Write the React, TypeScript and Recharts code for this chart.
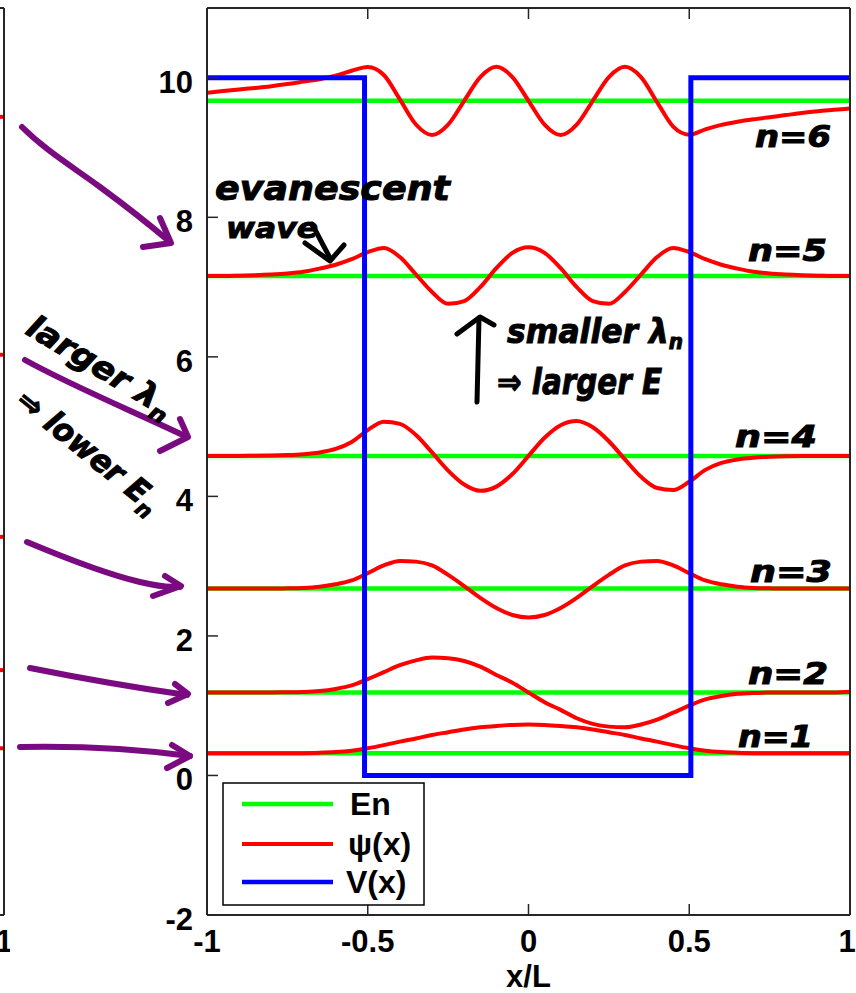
import React from 'react';
import { LineChart, Line, XAxis, YAxis } from 'recharts';

// sample positions x/L
const xs = [
  -1, -0.95, -0.9, -0.85, -0.8, -0.75, -0.7, -0.65, -0.6, -0.55, -0.5, -0.45, -0.4, -0.35, -0.3, -0.25, -0.2,
  -0.15, -0.1, -0.05, 0, 0.05, 0.1, 0.15, 0.2, 0.25, 0.3, 0.35, 0.4, 0.45, 0.5, 0.55, 0.6, 0.65, 0.7, 0.75,
  0.8, 0.85, 0.9, 0.95, 1,
];

// psi_n(x) drawn offset by E_n
const psi1 = [
  0.32, 0.32, 0.32, 0.32, 0.32, 0.32, 0.32, 0.325, 0.335, 0.355, 0.39, 0.435, 0.485, 0.53, 0.58, 0.62, 0.66,
  0.69, 0.71, 0.725, 0.73, 0.725, 0.71, 0.69, 0.66, 0.62, 0.58, 0.53, 0.485, 0.435, 0.39, 0.355, 0.335, 0.325,
  0.32, 0.32, 0.32, 0.32, 0.32, 0.32, 0.32,
];
const psi2 = [
  1.19, 1.19, 1.19, 1.19, 1.19, 1.192, 1.197, 1.21, 1.24, 1.29, 1.38, 1.48, 1.58, 1.65, 1.69, 1.68, 1.64,
  1.56, 1.44, 1.33, 1.19, 1.05, 0.94, 0.82, 0.74, 0.7, 0.69, 0.73, 0.8, 0.9, 1.0, 1.09, 1.14, 1.17, 1.183,
  1.188, 1.19, 1.19, 1.19, 1.19, 1.2,
];
const psi3 = [
  2.68, 2.68, 2.68, 2.68, 2.68, 2.682, 2.688, 2.705, 2.74, 2.795, 2.9, 3.01, 3.075, 3.065, 3.01, 2.875, 2.715,
  2.545, 2.4, 2.3, 2.265, 2.3, 2.4, 2.545, 2.715, 2.875, 3.01, 3.065, 3.075, 3.01, 2.9, 2.795, 2.74, 2.705,
  2.688, 2.682, 2.68, 2.68, 2.68, 2.68, 2.68,
];
const psi4 = [
  4.58, 4.58, 4.58, 4.582, 4.585, 4.592, 4.605, 4.63, 4.68, 4.78, 4.95, 5.07, 5.04, 4.88, 4.63, 4.37, 4.17,
  4.08, 4.14, 4.32, 4.58, 4.84, 5.02, 5.08, 4.99, 4.79, 4.53, 4.28, 4.12, 4.09, 4.21, 4.38, 4.48, 4.53, 4.555,
  4.568, 4.575, 4.578, 4.58, 4.58, 4.58,
];
const psi5 = [
  7.16, 7.16, 7.164, 7.17, 7.18, 7.195, 7.22, 7.265, 7.32, 7.4, 7.5, 7.56, 7.43, 7.18, 6.93, 6.76, 6.8, 7.0,
  7.27, 7.49, 7.57, 7.49, 7.27, 7.0, 6.8, 6.76, 6.93, 7.18, 7.43, 7.56, 7.5, 7.4, 7.32, 7.265, 7.22, 7.195,
  7.18, 7.17, 7.164, 7.16, 7.16,
];
const psi6 = [
  9.785, 9.81, 9.833, 9.855, 9.88, 9.91, 9.945, 9.98, 10.03, 10.1, 10.155, 10.04, 9.69, 9.33, 9.18, 9.33, 9.67,
  10.01, 10.157, 10.01, 9.67, 9.33, 9.18, 9.33, 9.67, 10.01, 10.157, 10.01, 9.65, 9.3, 9.185, 9.26, 9.325,
  9.37, 9.405, 9.435, 9.465, 9.495, 9.52, 9.54, 9.56,
];

const energies = [0.32, 1.19, 2.68, 4.58, 7.16, 9.67];

// square well V(x)
const potentialX = [-1, -0.51, -0.51, 0.505, 0.505, 1];
const potentialV = [10, 10, 0, 0, 10, 10];

const xTicks = [-1, -0.5, 0, 0.5, 1];
const yTicks = [-2, 0, 2, 4, 6, 8, 10];

// right-hand ends of the red curves of the neighbouring (cropped) panel
const leftStubX = [0.97, 1];
const leftEnds = [9.44, 6.03, 3.42, 1.51, 0.39];
const leftXTicks = [1];

const psiSets = [psi1, psi2, psi3, psi4, psi5, psi6];
const psiRows = xs.map((x, i) => {
  const row: Record<string, number> = { x };
  psiSets.forEach((s, k) => {
    row[`p${k + 1}`] = s[i];
  });
  return row;
});
const levelRows = energies.map((e) => [
  { x: -1, e },
  { x: 1, e },
]);
const potentialRows = potentialX.map((x, i) => ({ x, v: potentialV[i] }));
const leftRows = leftEnds.map((v) => leftStubX.map((x) => ({ x, v })));

const FONT = '"Liberation Sans", Arial, Helvetica, sans-serif';
const HAND = '"DejaVu Sans", sans-serif';
const INK = '#000';
const PURPLE = '#7a0a80';

const axisStyle = { stroke: '#262626', strokeWidth: 2 };
const tickStyle = { stroke: '#262626', strokeWidth: 1.5 };

const XTick = (props: any) => {
  const { x, y, payload, edgeShift } = props;
  // the right-most label of the main panel sits a touch inside the frame edge
  const dx = edgeShift && payload.value === 1 ? -3 : 0;
  return (
    <text x={x + dx} y={y} dy={23} textAnchor="middle" fontFamily={FONT} fontWeight="bold" fontSize={31} fill="#000">
      {String(payload.value)}
    </text>
  );
};

const YTick = (props: any) => {
  const { x, y, payload } = props;
  return (
    <text x={x} y={y} dy={15} textAnchor="end" fontFamily={FONT} fontWeight="bold" fontSize={31} fill="#000">
      {String(payload.value)}
    </text>
  );
};

const NoTick = () => <g />;

function NeighbourPanel() {
  return (
    <div style={{ position: 'absolute', left: -690, top: 0 }}>
      <LineChart width={700} height={993} margin={{ top: 7, right: 5, bottom: 0, left: 0 }}>
        <XAxis
          dataKey="x"
          type="number"
          domain={[-1, 1]}
          ticks={leftXTicks}
          interval={0}
          height={78}
          tickSize={-11}
          tickMargin={25}
          tick={<XTick />}
          axisLine={axisStyle}
          tickLine={tickStyle}
          allowDataOverflow
        />
        <XAxis xAxisId="top" orientation="top" dataKey="x" type="number" domain={[-1, 1]} ticks={leftXTicks} interval={0}
          height={1} tickSize={-11} tick={<NoTick />} axisLine={axisStyle} tickLine={tickStyle} />
        <YAxis type="number" domain={[-2, 11]} ticks={yTicks} interval={0} width={60} tickSize={-11}
          tick={<NoTick />} axisLine={axisStyle} tickLine={tickStyle} allowDataOverflow />
        <YAxis yAxisId="right" orientation="right" type="number" domain={[-2, 11]} ticks={yTicks} interval={0}
          width={1} tickSize={-11} tick={<NoTick />} axisLine={axisStyle} tickLine={tickStyle} />
        {leftRows.map((rows, i) => (
          <Line key={i} data={rows} dataKey="v" type="linear" stroke="#ff0000" strokeWidth={4} dot={false}
            isAnimationActive={false} />
        ))}
      </LineChart>
    </div>
  );
}

function Annotations() {
  const hand = {
    fontFamily: HAND,
    fontWeight: 'bold' as const,
    fontStyle: 'italic' as const,
    fill: INK,
    stroke: INK,
    strokeWidth: 1,
  };
  const purple = { stroke: PURPLE, strokeWidth: 6, fill: 'none', strokeLinecap: 'round' as const, strokeLinejoin: 'round' as const };
  const ink = { stroke: INK, strokeWidth: 5, fill: 'none', strokeLinecap: 'round' as const, strokeLinejoin: 'round' as const };
  return (
    <svg width={856} height={993} style={{ position: 'absolute', left: 0, top: 0, pointerEvents: 'none' }}>
      {/* legend */}
      <rect x={223} y={783} width={201} height={122} fill="#fff" stroke="#000" strokeWidth={1.5} />
      <line x1={242} x2={333} y1={804} y2={804} stroke="#00ff00" strokeWidth={4.5} />
      <line x1={242} x2={333} y1={844} y2={844} stroke="#ff0000" strokeWidth={4} />
      <line x1={242} x2={333} y1={882} y2={882} stroke="#0000ff" strokeWidth={4.5} />
      <g fontFamily={FONT} fontWeight="bold" fontSize={32} fill="#000">
        <text x={350} y={815}>En</text>
        <text x={348} y={855}>ψ(x)</text>
        <text x={346} y={893}>V(x)</text>
      </g>

      {/* purple arrows */}
      <path d="M22,127 C45,150 70,165 100,187 S150,225 170,242" {...purple} />
      <path d="M160,218 L171,243 L143,247" {...purple} />
      <path d="M25,360 C70,385 130,410 185,436" {...purple} />
      <path d="M180,419 L188,437 L160,451" {...purple} />
      <path d="M27,542 C70,560 110,575 140,582 S170,586 180,587" {...purple} />
      <path d="M165,576 L181,586 L153,596" {...purple} />
      <path d="M30,668 C70,676 130,687 187,695" {...purple} />
      <path d="M175,684 L188,694 L168,703" {...purple} />
      <path d="M20,747 C70,746 130,748 190,756" {...purple} />
      <path d="M172,745 L190,756 L167,768" {...purple} />

      {/* handwriting */}
      <text x={215} y={200} fontSize={34} textLength={235} lengthAdjust="spacingAndGlyphs" {...hand}>evanescent</text>
      <text x={226} y={238} fontSize={29} textLength={92} lengthAdjust="spacingAndGlyphs" {...hand}>wave</text>
      <path d="M312,224 L330,258" {...ink} />
      <path d="M305,243 L330,261 L344,245" {...ink} />

      <path d="M477,402 L479,318" {...ink} />
      <path d="M457,334 L480,317 L494,325" {...ink} />
      <text x={507} y={343} fontSize={33} textLength={176} lengthAdjust="spacingAndGlyphs" {...hand}>
        smaller λ<tspan dy={6} fontSize={21}>n</tspan>
      </text>
      <text x={497} y={394} fontSize={35} textLength={165} lengthAdjust="spacingAndGlyphs" {...hand}>⇒ larger E</text>

      <text transform="translate(24,333) rotate(31)" fontSize={32} textLength={165} lengthAdjust="spacingAndGlyphs" {...hand}>
        larger λ<tspan dy={8} fontSize={22}>n</tspan>
      </text>
      <text transform="translate(14,404) rotate(39)" fontSize={32} textLength={175} lengthAdjust="spacingAndGlyphs" {...hand}>
        ⇒ lower E<tspan dy={8} fontSize={22}>n</tspan>
      </text>

      <text x={755} y={147} fontSize={30} textLength={76} lengthAdjust="spacingAndGlyphs" {...hand}>n=6</text>
      <text x={748} y={261} fontSize={30} textLength={79} lengthAdjust="spacingAndGlyphs" {...hand}>n=5</text>
      <text x={735} y={447} fontSize={30} textLength={82} lengthAdjust="spacingAndGlyphs" {...hand}>n=4</text>
      <text x={750} y={582} fontSize={30} textLength={82} lengthAdjust="spacingAndGlyphs" {...hand}>n=3</text>
      <text x={748} y={684} fontSize={30} textLength={80} lengthAdjust="spacingAndGlyphs" {...hand}>n=2</text>
      <text x={738} y={747} fontSize={30} textLength={75} lengthAdjust="spacingAndGlyphs" {...hand}>n=1</text>
    </svg>
  );
}

export default function App(): React.ReactElement {
  return (
    <div style={{ position: 'absolute', left: 0, top: 0, width: 856, height: 993, overflow: 'hidden', background: '#fff' }}>
      <NeighbourPanel />
      <div style={{ position: 'absolute', left: 0, top: 0 }}>
        <LineChart width={856} height={993} data={psiRows} margin={{ top: 7, right: 5, bottom: 0, left: 0 }}>
          <XAxis
            dataKey="x"
            type="number"
            domain={[-1, 1]}
            ticks={xTicks}
            interval={0}
            height={78}
            tickSize={-11}
            tickMargin={25}
            tick={<XTick edgeShift />}
            axisLine={axisStyle}
            tickLine={tickStyle}
            allowDataOverflow
            label={{ value: 'x/L', position: 'insideBottom', offset: 6, fill: '#000', fontSize: 31, fontWeight: 'bold', fontFamily: FONT }}
          />
          <XAxis xAxisId="top" orientation="top" dataKey="x" type="number" domain={[-1, 1]} ticks={xTicks} interval={0}
            height={1} tickSize={-11} tick={<NoTick />} axisLine={axisStyle} tickLine={tickStyle} />
          <YAxis
            type="number"
            domain={[-2, 11]}
            ticks={yTicks}
            interval={0}
            width={207}
            tickSize={-11}
            tickMargin={25}
            tick={<YTick />}
            axisLine={axisStyle}
            tickLine={tickStyle}
            allowDataOverflow
          />
          <YAxis yAxisId="right" orientation="right" type="number" domain={[-2, 11]} ticks={yTicks} interval={0}
            width={1} tickSize={-13} tick={<NoTick />} axisLine={axisStyle} tickLine={tickStyle} />

          {levelRows.map((rows, i) => (
            <Line key={`E${i}`} data={rows} dataKey="e" type="linear" stroke="#00ff00" strokeWidth={4.5} dot={false}
              isAnimationActive={false} />
          ))}
          {psiSets.map((_, k) => (
            <Line key={`p${k}`} dataKey={`p${k + 1}`} type="monotone" stroke="#ff0000" strokeWidth={4} dot={false}
              isAnimationActive={false} strokeLinejoin="round" />
          ))}
          <Line data={potentialRows} dataKey="v" type="linear" stroke="#0000ff" strokeWidth={5} dot={false}
            isAnimationActive={false} />
        </LineChart>
      </div>
      <Annotations />
    </div>
  );
}
